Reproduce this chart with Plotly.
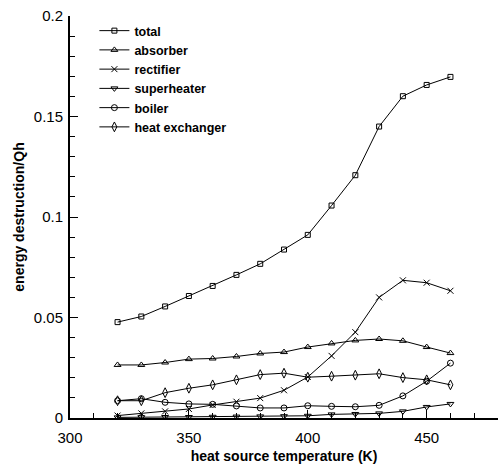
import plotly.graph_objects as go

temps = [320, 330, 340, 350, 360, 370, 380, 390, 400, 410, 420, 430, 440, 450, 460]

total = [0.0477, 0.0505, 0.0555, 0.0607, 0.0657, 0.0712, 0.0767, 0.0838, 0.0911,
         0.1057, 0.1208, 0.1450, 0.1601, 0.1657, 0.1697]
absorber = [0.0264, 0.0264, 0.0276, 0.0293, 0.0296, 0.0306, 0.0321, 0.0328, 0.0353,
            0.0371, 0.0386, 0.0393, 0.0384, 0.0353, 0.0323]
rectifier = [0.0012, 0.0023, 0.0033, 0.0045, 0.0065, 0.0081, 0.0099, 0.0138, 0.0204,
             0.0309, 0.0427, 0.0600, 0.0685, 0.0673, 0.0633]
superheater = [0.0003, 0.0004, 0.0005, 0.0005, 0.0006, 0.0007, 0.0008, 0.0009, 0.0011,
               0.0018, 0.0020, 0.0023, 0.0033, 0.0055, 0.0070]
boiler = [0.0086, 0.0096, 0.0078, 0.0070, 0.0068, 0.0060, 0.0050, 0.0050, 0.0061,
          0.0058, 0.0056, 0.0063, 0.0110, 0.0183, 0.0273]
heat_exchanger = [0.0086, 0.0086, 0.0126, 0.0148, 0.0165, 0.0190, 0.0216, 0.0223, 0.0203,
                  0.0208, 0.0213, 0.0220, 0.0201, 0.0190, 0.0165]

series = [
    ("total", total, "square-open", 5),
    ("absorber", absorber, "triangle-up-open", 6),
    ("rectifier", rectifier, "x-thin-open", 6),
    ("superheater", superheater, "triangle-down-open", 6),
    ("boiler", boiler, "circle-open", 6),
    ("heat exchanger", heat_exchanger, "diamond-tall-open", 7),
]

fig = go.Figure()
for name, vals, sym, sz in series:
    fig.add_trace(go.Scatter(
        x=temps, y=vals, name=name, mode="lines+markers",
        line=dict(color="black", width=1),
        marker=dict(symbol=sym, size=sz, color="black", line=dict(color="black", width=1)),
    ))

font_family = "Liberation Sans, Arial, sans-serif"

fig.update_layout(
    width=498, height=470,
    margin=dict(l=70, r=0, t=16, b=52),
    paper_bgcolor="white", plot_bgcolor="white",
    font=dict(family=font_family, color="black"),
    showlegend=True,
    legend=dict(
        x=0.057, y=1.0, xanchor="left", yanchor="top",
        bgcolor="rgba(0,0,0,0)", borderwidth=0,
        font=dict(family=font_family, size=12.5, color="black", weight="bold"),
        itemwidth=30,
    ),
)

fig.update_xaxes(
    range=[300, 480], showgrid=False, zeroline=False,
    showline=True, linecolor="black", linewidth=2,
    ticks="inside", ticklen=8, tickwidth=1, tickcolor="black",
    tickvals=[300, 350, 400, 450], ticktext=["300", "350", "400", "450"],
    minor=dict(ticks="inside", ticklen=5, tickwidth=1, tickcolor="black", dtick=10, tick0=300),
    tickfont=dict(size=15, family=font_family),
    ticklabelstandoff=5,
    title=dict(text="heat source temperature (K)", font=dict(size=14, family=font_family, weight="bold"), standoff=6),
)
fig.update_yaxes(
    range=[0, 0.2], showgrid=False, zeroline=False,
    showline=True, linecolor="black", linewidth=2,
    ticks="inside", ticklen=8, tickwidth=1, tickcolor="black",
    tickvals=[0, 0.05, 0.1, 0.15, 0.2], ticktext=["0", "0.05", "0.1", "0.15", "0.2"],
    minor=dict(ticks="inside", ticklen=5, tickwidth=1, tickcolor="black", dtick=0.01, tick0=0),
    tickfont=dict(size=15, family=font_family),
    ticklabelstandoff=2,
    title=dict(text="energy destruction/Qh", font=dict(size=14, family=font_family, weight="bold"), standoff=6),
)

fig.write_html("out.html")
